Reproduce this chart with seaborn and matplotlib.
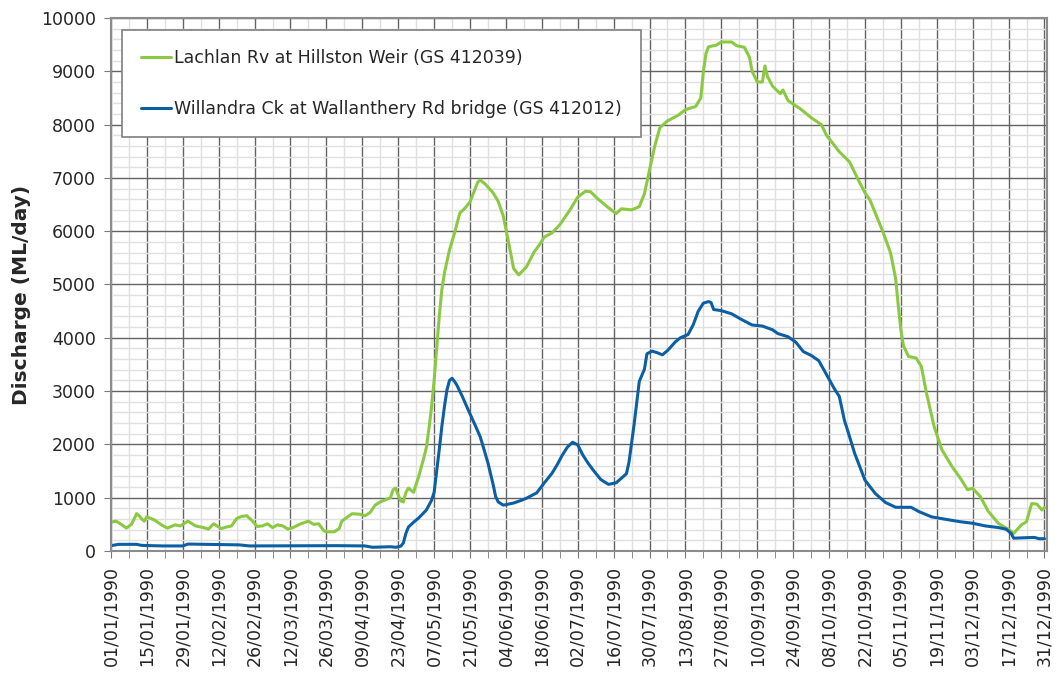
import pandas as pd
import seaborn as sns
import matplotlib.pyplot as plt
from matplotlib.ticker import MultipleLocator

# ----------------------------------------------------------
# Data (day = days since 01/01/1990)
# ----------------------------------------------------------

lachlan_label = "Lachlan Rv at Hillston Weir (GS 412039)"
willandra_label = "Willandra Ck at Wallanthery Rd bridge (GS 412012)"

lachlan_day = [0, 2, 4, 6, 8, 10, 11, 12, 13, 14, 17, 20, 22, 25, 27, 28, 30, 33, 36, 38,
               40, 43, 45, 47, 49, 51, 53, 55, 57, 59, 61, 63, 65, 67, 69, 71, 74, 77, 79, 81,
               83, 84, 87, 89, 90, 92, 94, 97, 99, 101, 103, 105, 107, 109, 110, 111, 112, 113, 114, 115,
               116, 117, 118, 120, 122, 123, 124, 125, 126, 127, 128, 129, 130, 132, 134, 136, 138, 140, 142, 143,
               144, 146, 149, 151, 153, 155, 157, 159, 162, 165, 167, 169, 172, 175, 179, 182, 185, 187, 190, 194,
               197, 199, 203, 206, 208, 210, 212, 214, 217, 221, 224, 228, 230, 231, 232, 233, 236, 238, 242, 244,
               247, 249, 250, 252, 254, 255, 256, 258, 261, 262, 264, 269, 273, 277, 279, 284, 288, 291, 294, 296,
               301, 304, 306, 307, 308, 309, 311, 314, 316, 318, 321, 324, 328, 331, 334, 336, 339, 342, 346, 349,
               350, 352, 355, 357, 359, 361, 363, 364]
lachlan_flow = [540, 560, 500, 430, 500, 700, 660, 600, 560, 640, 580, 480, 430, 490, 470, 500, 560, 470, 440, 410,
                510, 420, 450, 470, 610, 650, 660, 570, 460, 470, 510, 440, 490, 470, 410, 440, 510, 560, 500, 510,
                380, 360, 360, 420, 560, 630, 700, 690, 660, 720, 860, 920, 960, 1000, 1150, 1180, 1050, 940, 920, 1100,
                1180, 1140, 1100, 1400, 1750, 1950, 2300, 2700, 3200, 3800, 4400, 4900, 5210, 5650, 5970, 6340, 6430, 6550, 6800, 6920,
                6960, 6880, 6720, 6560, 6280, 5800, 5300, 5180, 5330, 5610, 5740, 5890, 5970, 6120, 6400, 6640, 6750, 6740, 6600, 6440,
                6330, 6420, 6400, 6460, 6700, 7150, 7590, 7940, 8070, 8170, 8280, 8340, 8500, 9000, 9330, 9460, 9490, 9550, 9550, 9480,
                9450, 9260, 9000, 8800, 8800, 9100, 8900, 8720, 8580, 8650, 8450, 8290, 8130, 8000, 7800, 7490, 7300, 7000, 6720, 6580,
                5990, 5590, 5100, 4600, 4150, 3850, 3650, 3620, 3460, 2960, 2330, 1900, 1580, 1380, 1150, 1175, 1020, 750, 520, 430,
                410, 330, 490, 550, 890, 880, 770, 815]

willandra_day = [0, 3, 10, 12, 20, 28, 30, 50, 54, 88, 99, 102, 109, 111, 113, 114, 115, 116, 118, 120,
                 123, 125, 126, 127, 128, 129, 130, 131, 132, 133, 134, 135, 137, 139, 142, 144, 145, 147, 149, 150,
                 151, 153, 155, 157, 160, 162, 166, 169, 172, 174, 176, 178, 180, 182, 184, 186, 188, 191, 194, 197,
                 201, 202, 204, 206, 208, 209, 211, 213, 215, 217, 220, 222, 225, 227, 229, 231, 233, 234, 235, 238,
                 242, 246, 250, 254, 258, 260, 264, 267, 270, 273, 276, 279, 282, 284, 286, 287, 290, 294, 298, 302,
                 306, 312, 315, 320, 326, 331, 336, 341, 346, 349, 351, 352, 357, 360, 362, 364]
willandra_flow = [100, 125, 125, 105, 95, 95, 130, 115, 95, 100, 95, 70, 80, 70, 90, 150, 330, 450, 540, 620,
                  770, 950, 1100, 1500, 1900, 2330, 2700, 3020, 3200, 3240, 3180, 3100, 2900, 2680, 2360, 2140, 1980, 1650, 1250, 1020,
                  920, 860, 880, 900, 950, 990, 1090, 1280, 1460, 1620, 1800, 1950, 2040, 1990, 1800, 1650, 1520, 1340, 1250, 1280,
                  1450, 1670, 2380, 3180, 3410, 3700, 3750, 3720, 3680, 3760, 3920, 4000, 4060, 4240, 4500, 4650, 4680, 4660, 4530, 4510,
                  4450, 4340, 4240, 4220, 4150, 4080, 4020, 3920, 3740, 3670, 3570, 3310, 3050, 2900, 2450, 2300, 1830, 1330, 1080, 910,
                  820, 820, 740, 640, 590, 550, 520, 470, 440, 410, 330, 240, 250, 255, 230, 230]

start = pd.Timestamp("1990-01-01")
lachlan = pd.DataFrame({"date": start + pd.to_timedelta(lachlan_day, unit="D"), "flow": lachlan_flow})
willandra = pd.DataFrame({"date": start + pd.to_timedelta(willandra_day, unit="D"), "flow": willandra_flow})

major_dates = pd.date_range("1990-01-01", "1990-12-31", freq="14D")
minor_dates = pd.date_range("1990-01-01", "1990-12-31", freq="7D")

# ----------------------------------------------------------
# Plot
# ----------------------------------------------------------

sns.set_style("white")
plt.rcParams["font.family"] = ["DejaVu Sans"]

fig = plt.figure(figsize=(10.59, 6.74), dpi=100)
ax = fig.add_axes([0.1048, 0.1825, 0.8839, 0.7908])

sns.lineplot(data=lachlan, x="date", y="flow", color="#8cc943", lw=2.2, label=lachlan_label, ax=ax)
sns.lineplot(data=willandra, x="date", y="flow", color="#0d5fa3", lw=2.2, label=willandra_label, ax=ax)

ax.set_xlim(start, start + pd.Timedelta(days=365))
ax.set_ylim(0, 10000)

ax.yaxis.set_major_locator(MultipleLocator(1000))
ax.yaxis.set_minor_locator(MultipleLocator(200))
ax.set_xticks(minor_dates, minor=True)
ax.set_xticks(major_dates)
ax.set_xticklabels([d.strftime("%d/%m/%Y") for d in major_dates], rotation=90)

ax.grid(which="major", color="#646464", lw=1)
ax.grid(which="minor", color="#e0e0e0", lw=1)
ax.set_axisbelow(True)

ax.tick_params(axis="both", which="both", direction="out", length=5, color="#7a7a7a",
               labelsize=12.5, left=True, bottom=True)
ax.tick_params(axis="x", which="major", pad=6)
ax.tick_params(axis="y", which="minor", left=False)
ax.tick_params(axis="y", which="major", pad=6)

for side in ["left", "bottom", "top", "right"]:
    ax.spines[side].set_color("#8c8c8c")
    ax.spines[side].set_linewidth(1.5)

ax.set_xlabel("")
ax.set_ylabel("Discharge (ML/day)", fontsize=14.5, fontweight="bold")
ax.yaxis.set_label_coords(-0.085, 0.48)

leg = ax.legend(loc="upper left", bbox_to_anchor=(0.0118, 0.9775), borderaxespad=0,
                fancybox=False, framealpha=1, edgecolor="#7f7f7f", fontsize=12.5,
                labelspacing=1.9, borderpad=1.1, handlelength=1.7, handletextpad=0.2)
leg.get_frame().set_linewidth(1.2)

plt.savefig("out.png", dpi=100)
